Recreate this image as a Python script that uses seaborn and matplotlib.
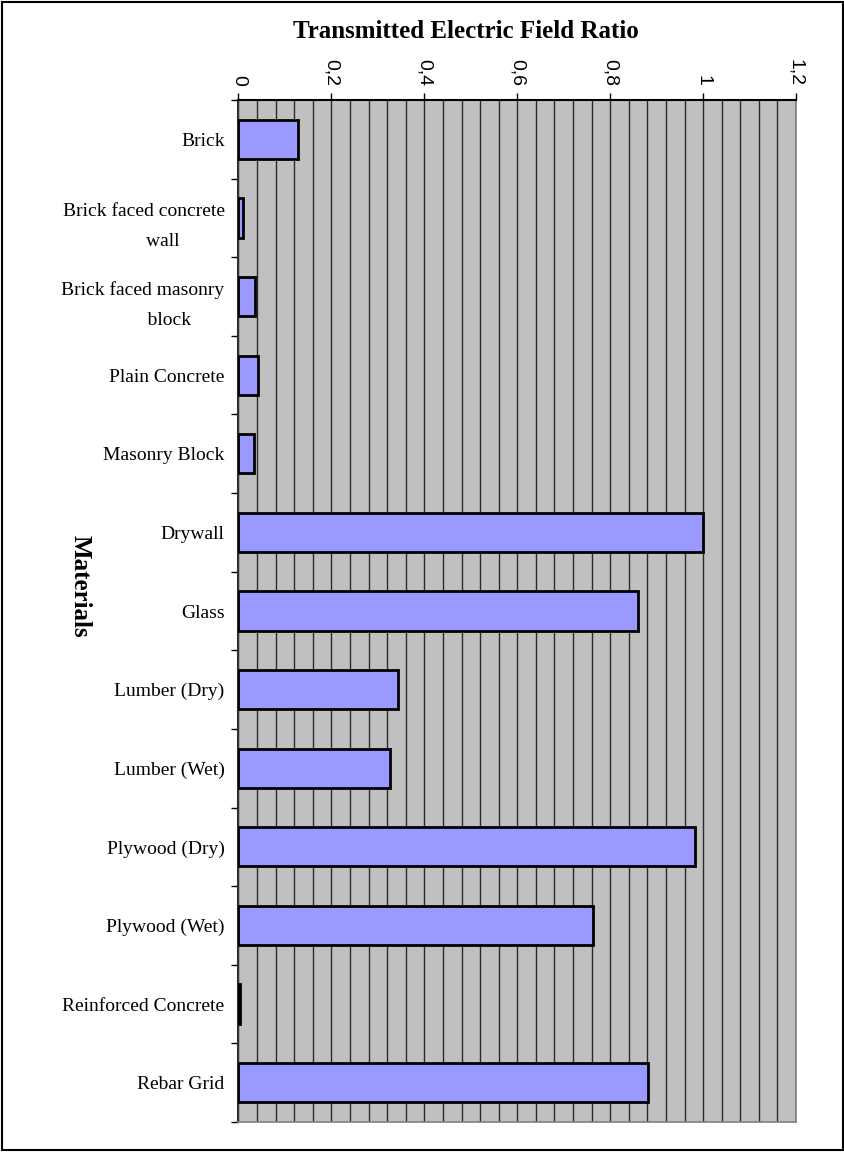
import numpy as np
import pandas as pd
import matplotlib
matplotlib.use("Agg")
import matplotlib.pyplot as plt
from matplotlib.ticker import MultipleLocator, FixedLocator
from matplotlib.patches import Rectangle
import seaborn as sns

materials = [
    "Brick",
    "Brick faced concrete\n        wall",
    "Brick faced masonry\n           block",
    "Plain Concrete",
    "Masonry Block",
    "Drywall",
    "Glass",
    "Lumber (Dry)",
    "Lumber (Wet)",
    "Plywood (Dry)",
    "Plywood (Wet)",
    "Reinforced Concrete",
    "Rebar Grid",
]
field_ratio = [0.127, 0.009, 0.035, 0.042, 0.033, 1.0, 0.86,
               0.344, 0.326, 0.982, 0.763, 0.004, 0.881]
x_ticks = [0, 0.2, 0.4, 0.6, 0.8, 1.0, 1.2]
x_tick_labels = ["0", "0,2", "0,4", "0,6", "0,8", "1", "1,2"]

df = pd.DataFrame({"Material": materials, "Ratio": field_ratio})

sns.set_theme(style="white")
plt.rcParams["font.family"] = ["Liberation Serif", "DejaVu Serif"]
plt.rcParams["text.color"] = "black"
plt.rcParams["xtick.color"] = "black"
plt.rcParams["ytick.color"] = "black"
plt.rcParams["axes.labelcolor"] = "black"

fig = plt.figure(figsize=(8.45, 11.52), dpi=100)
ax = fig.add_axes([238.5 / 845, 1 - 1122 / 1152, (796 - 238.5) / 845, 1022 / 1152])
ax.set_facecolor("#C0C0C0")

sns.barplot(data=df, x="Ratio", y="Material", orient="h", ax=ax,
            color="#9999FF", saturation=1, edgecolor="black",
            linewidth=2, width=0.5, zorder=3)

ax.set_xlim(0, 1.2)
ax.set_ylim(len(materials) - 0.5, -0.5)

# vertical grid every 0.04
ax.xaxis.set_minor_locator(MultipleLocator(0.04))
ax.grid(True, which="minor", axis="x", color="#2a2a2a", linewidth=1.0, zorder=1)
ax.grid(True, which="major", axis="x", color="#2a2a2a", linewidth=1.0, zorder=1)
ax.set_axisbelow(True)

# value axis on top
ax.xaxis.tick_top()
ax.xaxis.set_label_position("top")
ax.set_xticks(x_ticks)
ax.set_xticklabels(x_tick_labels, rotation=270, fontfamily="Liberation Sans",
                   fontsize=14, va="bottom", ha="center", color="black")
ax.tick_params(axis="x", which="major", direction="out", length=5, width=1,
               color="black", pad=5, top=True, bottom=False)
ax.tick_params(axis="x", which="minor", length=0, top=False, bottom=False)

# category ticks sit on the boundaries between bars
ax.yaxis.set_minor_locator(FixedLocator(np.arange(-0.5, len(materials), 1.0)))
ax.tick_params(axis="y", which="minor", direction="out", length=5, width=1,
               color="black", left=True)
ax.tick_params(axis="y", which="major", length=0, pad=10, labelsize=14)
for lbl in ax.get_yticklabels():
    lbl.set_multialignment("center")
    lbl.set_linespacing(2.0)
    lbl.set_color("black")

ax.set_xlabel("")
ax.set_ylabel("")

for side, col, lw in [("top", "black", 1.5), ("left", "#303030", 1.5),
                      ("right", "#808080", 1.2), ("bottom", "#808080", 1.2)]:
    ax.spines[side].set_visible(True)
    ax.spines[side].set_color(col)
    ax.spines[side].set_linewidth(lw)

fig.text(466 / 845, 1 - 32 / 1152, "Transmitted Electric Field Ratio",
         ha="center", va="center", fontsize=18, fontweight="bold", color="black")
fig.text(80 / 845, 1 - 586 / 1152, "Materials", rotation=270,
         ha="center", va="center", fontsize=18, fontweight="bold", color="black")

# outer frame of the figure
fig.patches.append(Rectangle((2 / 845, 2 / 1152), 841 / 845, 1148 / 1152,
                             transform=fig.transFigure, fill=False,
                             edgecolor="black", linewidth=1.5))

fig.savefig("out.png", dpi=100, facecolor="white")
